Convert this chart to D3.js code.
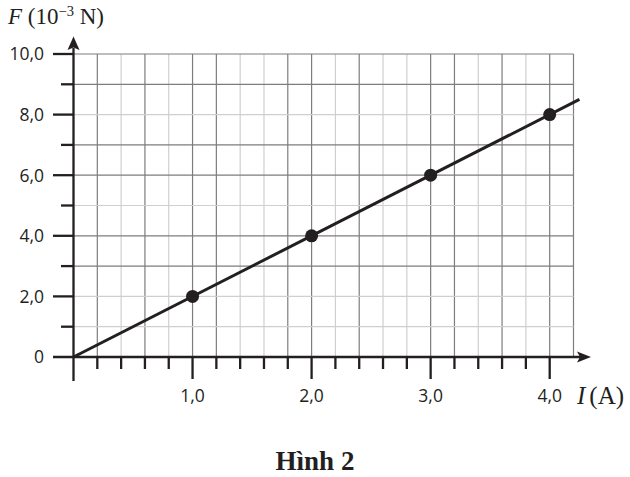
<!DOCTYPE html>
<html><head><meta charset="utf-8">
<script src="https://cdn.jsdelivr.net/npm/d3@7"></script>
<style>html,body{margin:0;padding:0;background:#fff;}svg{display:block;}</style>
</head><body>
<script>
// ---- data ----
const currentA = [1.0, 2.0, 3.0, 4.0];          // I (A)
const forceMilliN = [2.0, 4.0, 6.0, 8.0];        // F (10^-3 N)
const fitLineI = [0, 4.25];
const fitLineF = [0, 8.5];
const xTickValues = [1, 2, 3, 4];
const xTickLabels = ["1,0", "2,0", "3,0", "4,0"];
const yTickValues = [0, 2, 4, 6, 8, 10];
const yTickLabels = ["0", "2,0", "4,0", "6,0", "8,0", "10,0"];
const xMinorTicks = d3.range(1, 21).map(i => +(i * 0.2).toFixed(1));
const yMinorTicks = [1, 3, 5, 7, 9];

const W = 630, H = 477;
const ink = "#231f20";
const svg = d3.select("body").append("svg").attr("width", W).attr("height", H);

const x = d3.scaleLinear().domain([0, 4.2]).range([73.5, 573.5]);
const y = d3.scaleLinear().domain([0, 10]).range([357, 54]);

// grid
const lightV = new Set([0.4, 0.8, 1.4, 1.6, 2.2, 2.6, 2.8, 3.4, 3.8]);
const lightH = new Set([1, 2, 5, 8]);
const gridX = d3.range(1, 22).map(i => +(i * 0.2).toFixed(1));
const gridY = d3.range(1, 11);
const g = svg.append("g");
g.selectAll("line.gv").data(gridX).join("line")
  .attr("x1", d => x(d)).attr("x2", d => x(d))
  .attr("y1", y(0)).attr("y2", y(10))
  .attr("stroke", d => lightV.has(d) ? "#cfcfcf" : "#7d7d7d")
  .attr("stroke-width", 1.2);
g.selectAll("line.gh").data(gridY).join("line")
  .attr("y1", d => y(d)).attr("y2", d => y(d))
  .attr("x1", x(0)).attr("x2", x(4.2))
  .attr("stroke", d => lightH.has(d) ? "#cfcfcf" : "#7d7d7d")
  .attr("stroke-width", 1.2);

// axes lines
const ax = svg.append("g").attr("stroke", ink).attr("stroke-width", 2.3).attr("fill", "none");
ax.append("line").attr("x1", 53).attr("x2", 580).attr("y1", y(0)).attr("y2", y(0));
ax.append("line").attr("x1", x(0)).attr("x2", x(0)).attr("y1", 381).attr("y2", 48);
// arrows
svg.append("path").attr("fill", ink)
  .attr("d", `M${x(0)},36.5 L${x(0) + 6},50 L${x(0)},47.5 L${x(0) - 6},50 Z`);
svg.append("path").attr("fill", ink)
  .attr("d", `M591,${y(0)} L577,${y(0) - 5.5} L580,${y(0)} L577,${y(0) + 5.5} Z`);

// y ticks
ax.selectAll("line.yt").data(yTickValues.filter(d => d > 0)).join("line")
  .attr("x1", 53).attr("x2", x(0)).attr("y1", d => y(d)).attr("y2", d => y(d));
ax.selectAll("line.ym").data(yMinorTicks).join("line")
  .attr("x1", 61).attr("x2", x(0)).attr("y1", d => y(d)).attr("y2", d => y(d));
// x ticks
ax.selectAll("line.xm").data(xMinorTicks).join("line")
  .attr("x1", d => x(d)).attr("x2", d => x(d))
  .attr("y1", y(0)).attr("y2", d => xTickValues.includes(d) ? 379 : 369);

// tick labels
const lf = "'Open Sans', 'DejaVu Sans', sans-serif";
svg.selectAll("text.yl").data(yTickValues).join("text")
  .attr("x", 44).attr("y", d => y(d)).attr("dy", "0.36em")
  .attr("text-anchor", "end").attr("font-family", lf).attr("font-size", 17.5)
  .attr("fill", ink).text((d, i) => yTickLabels[i]);
svg.selectAll("text.xl").data(xTickValues).join("text")
  .attr("x", d => x(d)).attr("y", 402)
  .attr("text-anchor", "middle").attr("font-family", lf).attr("font-size", 17.5)
  .attr("fill", ink).text((d, i) => xTickLabels[i]);

// axis titles
const sf = "'Liberation Serif', 'Times New Roman', serif";
const ft = svg.append("text").attr("x", 8).attr("y", 24)
  .attr("font-family", sf).attr("font-size", 23).attr("fill", ink);
ft.append("tspan").attr("font-style", "italic").text("F");
ft.append("tspan").text(" (10");
ft.append("tspan").attr("font-size", 14.5).attr("dy", -8).text("−3");
ft.append("tspan").attr("dy", 8).text(" N)");

const it = svg.append("text").attr("x", 577).attr("y", 404)
  .attr("font-family", sf).attr("font-size", 25).attr("fill", ink);
it.append("tspan").attr("font-style", "italic").text("I");
it.append("tspan").attr("dx", 4).text("(A)");

svg.append("text").attr("x", 315).attr("y", 470).attr("text-anchor", "middle")
  .attr("font-family", sf).attr("font-size", 27).attr("font-weight", "bold")
  .attr("fill", ink).text("Hình 2");

// fit line
const line = d3.line().x(d => x(d[0])).y(d => y(d[1]));
svg.append("path").datum(fitLineI.map((v, i) => [v, fitLineF[i]]))
  .attr("d", line).attr("stroke", ink).attr("stroke-width", 3).attr("fill", "none");

// points
svg.selectAll("circle.pt").data(currentA.map((v, i) => [v, forceMilliN[i]])).join("circle")
  .attr("cx", d => x(d[0])).attr("cy", d => y(d[1])).attr("r", 6.5).attr("fill", ink);
</script>
</body></html>
